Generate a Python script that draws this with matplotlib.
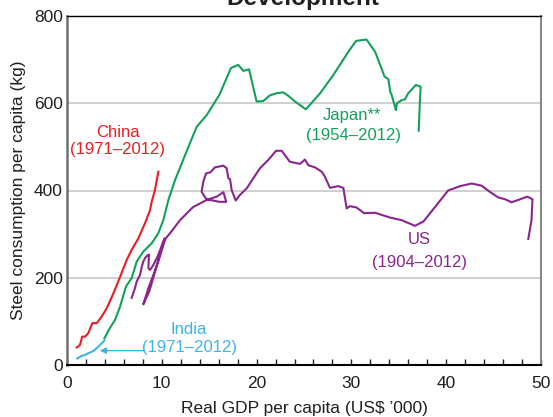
import matplotlib.pyplot as plt
from matplotlib.ticker import MultipleLocator

plt.rcParams['font.family'] = ['Liberation Sans', 'DejaVu Sans']

# data: GDP per capita (US$ '000) vs steel use (kg)
china_x = [1.02, 1.37, 1.6, 1.9, 2.25, 2.67, 3.13, 3.66, 4.19, 4.89, 5.6, 6.3,
           6.82, 7.52, 8.23, 8.76, 8.93, 9.28, 9.63]
china_y = [40, 46, 65, 65, 73, 96, 96, 111, 130, 164, 202, 241,
           264, 290, 325, 355, 374, 401, 443]

india_x = [1.09, 1.55, 1.9, 2.25, 2.78, 3.3, 3.94]
india_y = [15, 21, 23, 27, 32, 42, 56]

japan_x = [3.94, 4.5, 5.06, 5.6, 6.22, 6.82, 7.35, 8.05, 8.93, 9.63,
           10.16, 10.69, 11.4, 12.6, 13.68, 14.74, 16.07, 17.3, 18.07, 18.6,
           19.2, 20.0, 20.7, 21.4, 22.1, 22.8, 23.35, 24.05, 25.2, 26.7,
           28.1, 29.8, 30.5, 31.6, 32.5, 33.1, 33.5, 33.9, 34.1, 34.25,
           34.7, 34.8, 35.3, 35.65, 36.0, 36.8, 37.3, 37.2, 37.1]
japan_y = [61, 84, 103, 134, 180, 199, 237, 260, 279, 302,
           332, 378, 424, 489, 546, 573, 619, 681, 688, 674,
           678, 604, 605, 618, 623, 625, 617, 604, 586, 623,
           665, 722, 743, 746, 718, 684, 661, 655, 626, 619,
           584, 600, 607, 609, 623, 642, 638, 592, 537]

us_x = [6.82, 7.17, 7.35, 7.52, 7.7, 7.88, 8.05, 8.23, 8.47, 8.65,
        8.58, 8.76, 9.1, 9.28, 9.5, 9.8, 10.1, 10.3, 9.8, 9.3,
        8.7, 8.05, 8.58, 9.1, 9.63, 10.16, 10.4, 10.87, 11.92, 13.3,
        14.7, 15.8, 16.5, 16.8, 16.1, 14.7, 14.2, 14.38, 14.66, 15.15,
        15.6, 16.5, 16.84, 16.9, 17.02, 17.2, 17.37, 17.8, 18.25, 18.96,
        19.65, 20.36, 21.23, 22.05, 22.65, 23.5, 24.58, 25.1, 25.45, 26.16,
        26.87, 27.2, 27.74, 28.6, 29.15, 29.5, 29.85, 30.55, 31.33, 32.5,
        34.07, 35.3, 36.7, 37.6, 39.0, 40.2, 41.46, 42.7, 43.74, 44.6,
        45.5, 46.2, 46.9, 47.8, 48.56, 49.1, 49.0, 48.66]
us_y = [154, 176, 191, 199, 206, 225, 237, 245, 251, 253,
        222, 218, 229, 237, 246, 262, 280, 290, 255, 215,
        170, 139, 176, 206, 237, 275, 290, 302, 332, 362,
        378, 386, 396, 374, 374, 380, 397, 420, 439, 442,
        453, 457, 451, 443, 428, 426, 401, 377, 390, 405,
        428, 451, 470, 491, 491, 466, 461, 471, 458, 453,
        443, 432, 406, 410, 406, 359, 364, 361, 348, 349,
        338, 332, 319, 329, 367, 400, 410, 416, 411, 397,
        384, 380, 373, 380, 386, 380, 332, 289]

RED = '#ED1C24'
GREEN = '#12A15A'
PURPLE = '#8C248F'
BLUE = '#3CB4E6'
FS = 12

fig = plt.figure(figsize=(5.53, 4.17), dpi=100)
ax = fig.add_axes([67/553, 52/417, 474/553, 349/417])

lw = 1.5
ax.plot(us_x, us_y, color=PURPLE, lw=lw)
ax.plot(japan_x, japan_y, color=GREEN, lw=lw)
ax.plot(china_x, china_y, color=RED, lw=lw)
ax.plot(india_x, india_y, color=BLUE, lw=lw)

ax.set_xlim(0, 50)
ax.set_ylim(0, 800)
ax.xaxis.set_major_locator(MultipleLocator(10))
ax.xaxis.set_minor_locator(MultipleLocator(2))
ax.yaxis.set_major_locator(MultipleLocator(200))
ax.tick_params(axis='x', which='both', direction='in', length=4.5, width=1,
               pad=8, labelsize=12.5, colors='#231F20')
ax.tick_params(axis='y', length=0, pad=3, labelsize=12.5, colors='#231F20')

ax.grid(axis='y', color='#C8C8C8', lw=1.2)
ax.set_axisbelow(True)
ax.spines['left'].set_color('#707070')
ax.spines['left'].set_linewidth(1.8)
ax.spines['right'].set_color('#8A8A8A')
ax.spines['right'].set_linewidth(1.5)
ax.spines['top'].set_linewidth(1.0)
ax.spines['bottom'].set_linewidth(1.5)

ax.set_xlabel("Real GDP per capita (US$ \u2019000)", fontsize=12.5, labelpad=7, color='#231F20')
ax.set_ylabel("Steel consumption per capita (kg)", fontsize=12.5, labelpad=6, color='#231F20')

ax.text(5.33, 532, 'China', color=RED, fontsize=FS, ha='center', va='center')
ax.text(5.35, 493, '(1971\u20132012)', color=RED, fontsize=FS, ha='center', va='center')
ax.text(30.1, 573, 'Japan**', color=GREEN, fontsize=FS, ha='center', va='center')
ax.text(30.2, 527, '(1954\u20132012)', color=GREEN, fontsize=FS, ha='center', va='center')
ax.text(37.2, 287, 'US', color=PURPLE, fontsize=FS, ha='center', va='center')
ax.text(37.2, 235, '(1904\u20132012)', color=PURPLE, fontsize=FS, ha='center', va='center')
ax.text(12.8, 82, 'India', color=BLUE, fontsize=FS, ha='center', va='center')
ax.text(12.9, 40, '(1971\u20132012)', color=BLUE, fontsize=FS, ha='center', va='center')
ax.annotate('', xy=(3.45, 33), xytext=(8.1, 33),
            arrowprops=dict(arrowstyle='-|>', color=BLUE, lw=1, mutation_scale=9,
                            shrinkA=0, shrinkB=0))

fig.text(303/553, 1 - 5/417, 'Development', ha='center', va='baseline',
         fontsize=17.5, fontweight='bold', color='#231F20')

fig.savefig('out.png', dpi=100)
